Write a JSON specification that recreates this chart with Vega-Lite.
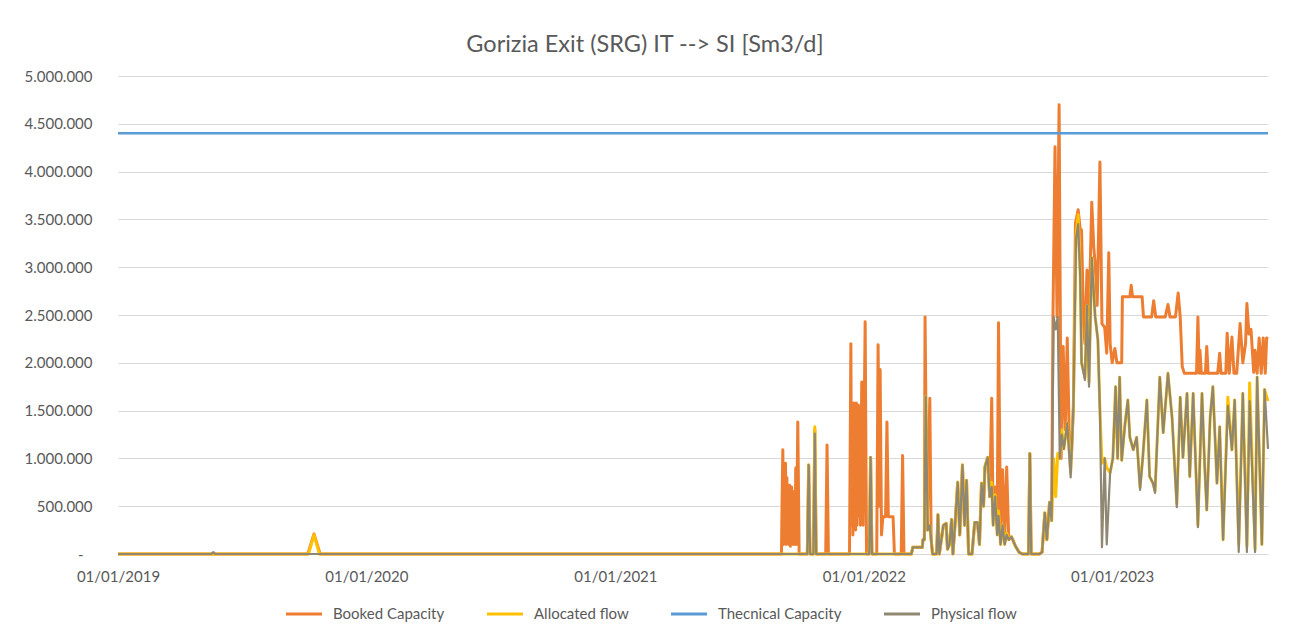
{
  "$schema": "https://vega.github.io/schema/vega-lite/v6.json",
  "width": 1150,
  "height": 478,
  "autosize": {"type": "none"},
  "padding": {"left": 118, "top": 76, "right": 22, "bottom": 85},
  "background": "white",
  "config": {
    "view": {"stroke": null},
    "font": "Lato",
    "locale": {"number": {"decimal": ",", "thousands": ".", "grouping": [3], "currency": ["€", ""]}},
    "axis": {"labelColor": "#595959", "labelFont": "Lato", "labelFontSize": 15, "domain": false, "ticks": false, "title": null}
  },
  "title": {
    "text": "Gorizia Exit (SRG) IT --> SI [Sm3/d]",
    "anchor": "middle",
    "frame": "group",
    "dx": -48,
    "offset": 13,
    "font": "Lato",
    "fontSize": 23.5,
    "fontWeight": "normal",
    "color": "#595959"
  },
  "data": {
    "values": [
      {"date": "2019-01-01", "series": "Thecnical Capacity", "value": 4400000},
      {"date": "2023-08-18", "series": "Thecnical Capacity", "value": 4400000},

      {"date": "2019-01-01", "series": "Booked Capacity", "value": 0},
      {"date": "2019-10-07", "series": "Booked Capacity", "value": 0},
      {"date": "2019-10-16", "series": "Booked Capacity", "value": 210000},
      {"date": "2019-10-25", "series": "Booked Capacity", "value": 0},
      {"date": "2021-09-02", "series": "Booked Capacity", "value": 0},
      {"date": "2021-09-03", "series": "Booked Capacity", "value": 600000},
      {"date": "2021-09-04", "series": "Booked Capacity", "value": 1090000},
      {"date": "2021-09-05", "series": "Booked Capacity", "value": 100000},
      {"date": "2021-09-06", "series": "Booked Capacity", "value": 900000},
      {"date": "2021-09-07", "series": "Booked Capacity", "value": 150000},
      {"date": "2021-09-08", "series": "Booked Capacity", "value": 950000},
      {"date": "2021-09-09", "series": "Booked Capacity", "value": 100000},
      {"date": "2021-09-10", "series": "Booked Capacity", "value": 800000},
      {"date": "2021-09-11", "series": "Booked Capacity", "value": 120000},
      {"date": "2021-09-12", "series": "Booked Capacity", "value": 700000},
      {"date": "2021-09-13", "series": "Booked Capacity", "value": 100000},
      {"date": "2021-09-14", "series": "Booked Capacity", "value": 720000},
      {"date": "2021-09-15", "series": "Booked Capacity", "value": 80000},
      {"date": "2021-09-17", "series": "Booked Capacity", "value": 700000},
      {"date": "2021-09-19", "series": "Booked Capacity", "value": 100000},
      {"date": "2021-09-20", "series": "Booked Capacity", "value": 650000},
      {"date": "2021-09-22", "series": "Booked Capacity", "value": 100000},
      {"date": "2021-09-23", "series": "Booked Capacity", "value": 900000},
      {"date": "2021-09-24", "series": "Booked Capacity", "value": 100000},
      {"date": "2021-09-26", "series": "Booked Capacity", "value": 1380000},
      {"date": "2021-09-28", "series": "Booked Capacity", "value": 0},
      {"date": "2021-10-10", "series": "Booked Capacity", "value": 0},
      {"date": "2021-10-12", "series": "Booked Capacity", "value": 930000},
      {"date": "2021-10-14", "series": "Booked Capacity", "value": 0},
      {"date": "2021-10-19", "series": "Booked Capacity", "value": 0},
      {"date": "2021-10-21", "series": "Booked Capacity", "value": 1300000},
      {"date": "2021-10-23", "series": "Booked Capacity", "value": 0},
      {"date": "2021-11-06", "series": "Booked Capacity", "value": 0},
      {"date": "2021-11-08", "series": "Booked Capacity", "value": 1140000},
      {"date": "2021-11-10", "series": "Booked Capacity", "value": 0},
      {"date": "2021-12-11", "series": "Booked Capacity", "value": 0},
      {"date": "2021-12-13", "series": "Booked Capacity", "value": 2200000},
      {"date": "2021-12-14", "series": "Booked Capacity", "value": 300000},
      {"date": "2021-12-15", "series": "Booked Capacity", "value": 1500000},
      {"date": "2021-12-16", "series": "Booked Capacity", "value": 200000},
      {"date": "2021-12-17", "series": "Booked Capacity", "value": 1580000},
      {"date": "2021-12-18", "series": "Booked Capacity", "value": 300000},
      {"date": "2021-12-19", "series": "Booked Capacity", "value": 1560000},
      {"date": "2021-12-20", "series": "Booked Capacity", "value": 250000},
      {"date": "2021-12-21", "series": "Booked Capacity", "value": 1580000},
      {"date": "2021-12-22", "series": "Booked Capacity", "value": 300000},
      {"date": "2021-12-23", "series": "Booked Capacity", "value": 1560000},
      {"date": "2021-12-24", "series": "Booked Capacity", "value": 400000},
      {"date": "2021-12-25", "series": "Booked Capacity", "value": 1550000},
      {"date": "2021-12-27", "series": "Booked Capacity", "value": 300000},
      {"date": "2021-12-29", "series": "Booked Capacity", "value": 1800000},
      {"date": "2021-12-31", "series": "Booked Capacity", "value": 300000},
      {"date": "2022-01-03", "series": "Booked Capacity", "value": 2430000},
      {"date": "2022-01-05", "series": "Booked Capacity", "value": 0},
      {"date": "2022-01-09", "series": "Booked Capacity", "value": 0},
      {"date": "2022-01-11", "series": "Booked Capacity", "value": 1010000},
      {"date": "2022-01-13", "series": "Booked Capacity", "value": 0},
      {"date": "2022-01-20", "series": "Booked Capacity", "value": 0},
      {"date": "2022-01-22", "series": "Booked Capacity", "value": 2190000},
      {"date": "2022-01-24", "series": "Booked Capacity", "value": 500000},
      {"date": "2022-01-25", "series": "Booked Capacity", "value": 1930000},
      {"date": "2022-01-27", "series": "Booked Capacity", "value": 200000},
      {"date": "2022-01-29", "series": "Booked Capacity", "value": 390000},
      {"date": "2022-02-02", "series": "Booked Capacity", "value": 390000},
      {"date": "2022-02-04", "series": "Booked Capacity", "value": 1380000},
      {"date": "2022-02-06", "series": "Booked Capacity", "value": 390000},
      {"date": "2022-02-13", "series": "Booked Capacity", "value": 390000},
      {"date": "2022-02-15", "series": "Booked Capacity", "value": 0},
      {"date": "2022-02-25", "series": "Booked Capacity", "value": 0},
      {"date": "2022-02-27", "series": "Booked Capacity", "value": 1030000},
      {"date": "2022-03-01", "series": "Booked Capacity", "value": 0},
      {"date": "2022-03-12", "series": "Booked Capacity", "value": 0},
      {"date": "2022-03-14", "series": "Booked Capacity", "value": 70000},
      {"date": "2022-03-28", "series": "Booked Capacity", "value": 70000},
      {"date": "2022-03-29", "series": "Booked Capacity", "value": 150000},
      {"date": "2022-03-31", "series": "Booked Capacity", "value": 150000},
      {"date": "2022-04-01", "series": "Booked Capacity", "value": 2480000},
      {"date": "2022-04-04", "series": "Booked Capacity", "value": 250000},
      {"date": "2022-04-08", "series": "Booked Capacity", "value": 1630000},
      {"date": "2022-04-10", "series": "Booked Capacity", "value": 150000},
      {"date": "2022-04-12", "series": "Booked Capacity", "value": 0},
      {"date": "2022-04-18", "series": "Booked Capacity", "value": 0},
      {"date": "2022-04-20", "series": "Booked Capacity", "value": 410000},
      {"date": "2022-04-22", "series": "Booked Capacity", "value": 0},
      {"date": "2022-04-28", "series": "Booked Capacity", "value": 300000},
      {"date": "2022-05-02", "series": "Booked Capacity", "value": 320000},
      {"date": "2022-05-04", "series": "Booked Capacity", "value": 50000},
      {"date": "2022-05-07", "series": "Booked Capacity", "value": 100000},
      {"date": "2022-05-10", "series": "Booked Capacity", "value": 360000},
      {"date": "2022-05-12", "series": "Booked Capacity", "value": 0},
      {"date": "2022-05-15", "series": "Booked Capacity", "value": 300000},
      {"date": "2022-05-19", "series": "Booked Capacity", "value": 750000},
      {"date": "2022-05-22", "series": "Booked Capacity", "value": 200000},
      {"date": "2022-05-26", "series": "Booked Capacity", "value": 930000},
      {"date": "2022-05-29", "series": "Booked Capacity", "value": 300000},
      {"date": "2022-06-01", "series": "Booked Capacity", "value": 770000},
      {"date": "2022-06-04", "series": "Booked Capacity", "value": 0},
      {"date": "2022-06-09", "series": "Booked Capacity", "value": 0},
      {"date": "2022-06-13", "series": "Booked Capacity", "value": 330000},
      {"date": "2022-06-17", "series": "Booked Capacity", "value": 330000},
      {"date": "2022-06-20", "series": "Booked Capacity", "value": 100000},
      {"date": "2022-06-23", "series": "Booked Capacity", "value": 740000},
      {"date": "2022-06-26", "series": "Booked Capacity", "value": 500000},
      {"date": "2022-06-28", "series": "Booked Capacity", "value": 910000},
      {"date": "2022-07-02", "series": "Booked Capacity", "value": 1010000},
      {"date": "2022-07-05", "series": "Booked Capacity", "value": 600000},
      {"date": "2022-07-08", "series": "Booked Capacity", "value": 1630000},
      {"date": "2022-07-10", "series": "Booked Capacity", "value": 400000},
      {"date": "2022-07-13", "series": "Booked Capacity", "value": 700000},
      {"date": "2022-07-16", "series": "Booked Capacity", "value": 300000},
      {"date": "2022-07-18", "series": "Booked Capacity", "value": 2420000},
      {"date": "2022-07-21", "series": "Booked Capacity", "value": 200000},
      {"date": "2022-07-24", "series": "Booked Capacity", "value": 880000},
      {"date": "2022-07-27", "series": "Booked Capacity", "value": 150000},
      {"date": "2022-07-30", "series": "Booked Capacity", "value": 910000},
      {"date": "2022-08-02", "series": "Booked Capacity", "value": 150000},
      {"date": "2022-08-06", "series": "Booked Capacity", "value": 180000},
      {"date": "2022-08-12", "series": "Booked Capacity", "value": 80000},
      {"date": "2022-08-17", "series": "Booked Capacity", "value": 20000},
      {"date": "2022-08-22", "series": "Booked Capacity", "value": 0},
      {"date": "2022-08-31", "series": "Booked Capacity", "value": 0},
      {"date": "2022-09-02", "series": "Booked Capacity", "value": 1050000},
      {"date": "2022-09-04", "series": "Booked Capacity", "value": 0},
      {"date": "2022-09-16", "series": "Booked Capacity", "value": 0},
      {"date": "2022-09-20", "series": "Booked Capacity", "value": 20000},
      {"date": "2022-09-24", "series": "Booked Capacity", "value": 430000},
      {"date": "2022-09-27", "series": "Booked Capacity", "value": 150000},
      {"date": "2022-10-01", "series": "Booked Capacity", "value": 540000},
      {"date": "2022-10-04", "series": "Booked Capacity", "value": 350000},
      {"date": "2022-10-06", "series": "Booked Capacity", "value": 2480000},
      {"date": "2022-10-09", "series": "Booked Capacity", "value": 4260000},
      {"date": "2022-10-12", "series": "Booked Capacity", "value": 2480000},
      {"date": "2022-10-15", "series": "Booked Capacity", "value": 4700000},
      {"date": "2022-10-18", "series": "Booked Capacity", "value": 1000000},
      {"date": "2022-10-21", "series": "Booked Capacity", "value": 2170000},
      {"date": "2022-10-24", "series": "Booked Capacity", "value": 1300000},
      {"date": "2022-10-27", "series": "Booked Capacity", "value": 2260000},
      {"date": "2022-10-30", "series": "Booked Capacity", "value": 1200000},
      {"date": "2022-11-02", "series": "Booked Capacity", "value": 1000000},
      {"date": "2022-11-05", "series": "Booked Capacity", "value": 1540000},
      {"date": "2022-11-08", "series": "Booked Capacity", "value": 3460000},
      {"date": "2022-11-12", "series": "Booked Capacity", "value": 3600000},
      {"date": "2022-11-15", "series": "Booked Capacity", "value": 3400000},
      {"date": "2022-11-17", "series": "Booked Capacity", "value": 3390000},
      {"date": "2022-11-20", "series": "Booked Capacity", "value": 2400000},
      {"date": "2022-11-22", "series": "Booked Capacity", "value": 2200000},
      {"date": "2022-11-25", "series": "Booked Capacity", "value": 2970000},
      {"date": "2022-11-28", "series": "Booked Capacity", "value": 2500000},
      {"date": "2022-12-02", "series": "Booked Capacity", "value": 3680000},
      {"date": "2022-12-05", "series": "Booked Capacity", "value": 3200000},
      {"date": "2022-12-07", "series": "Booked Capacity", "value": 3040000},
      {"date": "2022-12-10", "series": "Booked Capacity", "value": 2600000},
      {"date": "2022-12-14", "series": "Booked Capacity", "value": 4100000},
      {"date": "2022-12-17", "series": "Booked Capacity", "value": 2410000},
      {"date": "2022-12-21", "series": "Booked Capacity", "value": 2370000},
      {"date": "2022-12-24", "series": "Booked Capacity", "value": 2100000},
      {"date": "2022-12-27", "series": "Booked Capacity", "value": 3150000},
      {"date": "2022-12-29", "series": "Booked Capacity", "value": 2200000},
      {"date": "2023-01-01", "series": "Booked Capacity", "value": 2000000},
      {"date": "2023-01-05", "series": "Booked Capacity", "value": 2150000},
      {"date": "2023-01-08", "series": "Booked Capacity", "value": 2000000},
      {"date": "2023-01-15", "series": "Booked Capacity", "value": 2000000},
      {"date": "2023-01-16", "series": "Booked Capacity", "value": 2690000},
      {"date": "2023-01-27", "series": "Booked Capacity", "value": 2690000},
      {"date": "2023-01-29", "series": "Booked Capacity", "value": 2810000},
      {"date": "2023-01-31", "series": "Booked Capacity", "value": 2690000},
      {"date": "2023-02-14", "series": "Booked Capacity", "value": 2690000},
      {"date": "2023-02-16", "series": "Booked Capacity", "value": 2480000},
      {"date": "2023-02-28", "series": "Booked Capacity", "value": 2480000},
      {"date": "2023-03-03", "series": "Booked Capacity", "value": 2650000},
      {"date": "2023-03-06", "series": "Booked Capacity", "value": 2480000},
      {"date": "2023-03-20", "series": "Booked Capacity", "value": 2480000},
      {"date": "2023-03-24", "series": "Booked Capacity", "value": 2610000},
      {"date": "2023-03-27", "series": "Booked Capacity", "value": 2480000},
      {"date": "2023-04-04", "series": "Booked Capacity", "value": 2480000},
      {"date": "2023-04-08", "series": "Booked Capacity", "value": 2730000},
      {"date": "2023-04-11", "series": "Booked Capacity", "value": 2480000},
      {"date": "2023-04-14", "series": "Booked Capacity", "value": 1960000},
      {"date": "2023-04-17", "series": "Booked Capacity", "value": 1890000},
      {"date": "2023-05-05", "series": "Booked Capacity", "value": 1890000},
      {"date": "2023-05-07", "series": "Booked Capacity", "value": 2480000},
      {"date": "2023-05-09", "series": "Booked Capacity", "value": 1890000},
      {"date": "2023-05-10", "series": "Booked Capacity", "value": 2130000},
      {"date": "2023-05-12", "series": "Booked Capacity", "value": 1890000},
      {"date": "2023-05-18", "series": "Booked Capacity", "value": 1890000},
      {"date": "2023-05-20", "series": "Booked Capacity", "value": 2170000},
      {"date": "2023-05-22", "series": "Booked Capacity", "value": 1890000},
      {"date": "2023-06-05", "series": "Booked Capacity", "value": 1890000},
      {"date": "2023-06-08", "series": "Booked Capacity", "value": 2100000},
      {"date": "2023-06-10", "series": "Booked Capacity", "value": 1890000},
      {"date": "2023-06-17", "series": "Booked Capacity", "value": 1890000},
      {"date": "2023-06-19", "series": "Booked Capacity", "value": 2310000},
      {"date": "2023-06-22", "series": "Booked Capacity", "value": 1890000},
      {"date": "2023-06-26", "series": "Booked Capacity", "value": 2270000},
      {"date": "2023-06-29", "series": "Booked Capacity", "value": 1890000},
      {"date": "2023-07-03", "series": "Booked Capacity", "value": 1890000},
      {"date": "2023-07-08", "series": "Booked Capacity", "value": 2410000},
      {"date": "2023-07-12", "series": "Booked Capacity", "value": 2000000},
      {"date": "2023-07-16", "series": "Booked Capacity", "value": 2200000},
      {"date": "2023-07-18", "series": "Booked Capacity", "value": 2620000},
      {"date": "2023-07-21", "series": "Booked Capacity", "value": 2300000},
      {"date": "2023-07-24", "series": "Booked Capacity", "value": 2350000},
      {"date": "2023-07-28", "series": "Booked Capacity", "value": 1900000},
      {"date": "2023-07-30", "series": "Booked Capacity", "value": 2130000},
      {"date": "2023-08-02", "series": "Booked Capacity", "value": 1890000},
      {"date": "2023-08-05", "series": "Booked Capacity", "value": 2260000},
      {"date": "2023-08-08", "series": "Booked Capacity", "value": 1890000},
      {"date": "2023-08-11", "series": "Booked Capacity", "value": 2260000},
      {"date": "2023-08-14", "series": "Booked Capacity", "value": 1890000},
      {"date": "2023-08-16", "series": "Booked Capacity", "value": 2260000},
      {"date": "2023-08-18", "series": "Booked Capacity", "value": 2250000},

      {"date": "2019-01-01", "series": "Allocated flow", "value": 0},
      {"date": "2019-10-08", "series": "Allocated flow", "value": 0},
      {"date": "2019-10-16", "series": "Allocated flow", "value": 200000},
      {"date": "2019-10-24", "series": "Allocated flow", "value": 0},
      {"date": "2021-10-10", "series": "Allocated flow", "value": 0},
      {"date": "2021-10-12", "series": "Allocated flow", "value": 930000},
      {"date": "2021-10-14", "series": "Allocated flow", "value": 0},
      {"date": "2021-10-19", "series": "Allocated flow", "value": 0},
      {"date": "2021-10-21", "series": "Allocated flow", "value": 1330000},
      {"date": "2021-10-23", "series": "Allocated flow", "value": 0},
      {"date": "2022-01-09", "series": "Allocated flow", "value": 0},
      {"date": "2022-01-11", "series": "Allocated flow", "value": 1010000},
      {"date": "2022-01-13", "series": "Allocated flow", "value": 0},
      {"date": "2022-03-12", "series": "Allocated flow", "value": 0},
      {"date": "2022-03-14", "series": "Allocated flow", "value": 70000},
      {"date": "2022-03-28", "series": "Allocated flow", "value": 70000},
      {"date": "2022-03-29", "series": "Allocated flow", "value": 150000},
      {"date": "2022-03-31", "series": "Allocated flow", "value": 150000},
      {"date": "2022-04-02", "series": "Allocated flow", "value": 1650000},
      {"date": "2022-04-05", "series": "Allocated flow", "value": 250000},
      {"date": "2022-04-08", "series": "Allocated flow", "value": 300000},
      {"date": "2022-04-10", "series": "Allocated flow", "value": 150000},
      {"date": "2022-04-12", "series": "Allocated flow", "value": 0},
      {"date": "2022-04-18", "series": "Allocated flow", "value": 0},
      {"date": "2022-04-20", "series": "Allocated flow", "value": 410000},
      {"date": "2022-04-22", "series": "Allocated flow", "value": 0},
      {"date": "2022-04-28", "series": "Allocated flow", "value": 300000},
      {"date": "2022-05-02", "series": "Allocated flow", "value": 320000},
      {"date": "2022-05-04", "series": "Allocated flow", "value": 50000},
      {"date": "2022-05-07", "series": "Allocated flow", "value": 100000},
      {"date": "2022-05-10", "series": "Allocated flow", "value": 360000},
      {"date": "2022-05-12", "series": "Allocated flow", "value": 0},
      {"date": "2022-05-15", "series": "Allocated flow", "value": 300000},
      {"date": "2022-05-19", "series": "Allocated flow", "value": 750000},
      {"date": "2022-05-22", "series": "Allocated flow", "value": 200000},
      {"date": "2022-05-26", "series": "Allocated flow", "value": 930000},
      {"date": "2022-05-29", "series": "Allocated flow", "value": 300000},
      {"date": "2022-06-01", "series": "Allocated flow", "value": 770000},
      {"date": "2022-06-04", "series": "Allocated flow", "value": 0},
      {"date": "2022-06-09", "series": "Allocated flow", "value": 0},
      {"date": "2022-06-13", "series": "Allocated flow", "value": 330000},
      {"date": "2022-06-17", "series": "Allocated flow", "value": 330000},
      {"date": "2022-06-20", "series": "Allocated flow", "value": 100000},
      {"date": "2022-06-23", "series": "Allocated flow", "value": 740000},
      {"date": "2022-06-26", "series": "Allocated flow", "value": 500000},
      {"date": "2022-06-28", "series": "Allocated flow", "value": 910000},
      {"date": "2022-07-02", "series": "Allocated flow", "value": 1010000},
      {"date": "2022-07-05", "series": "Allocated flow", "value": 600000},
      {"date": "2022-07-08", "series": "Allocated flow", "value": 750000},
      {"date": "2022-07-10", "series": "Allocated flow", "value": 300000},
      {"date": "2022-07-13", "series": "Allocated flow", "value": 620000},
      {"date": "2022-07-16", "series": "Allocated flow", "value": 200000},
      {"date": "2022-07-18", "series": "Allocated flow", "value": 450000},
      {"date": "2022-07-21", "series": "Allocated flow", "value": 100000},
      {"date": "2022-07-24", "series": "Allocated flow", "value": 300000},
      {"date": "2022-07-27", "series": "Allocated flow", "value": 100000},
      {"date": "2022-07-30", "series": "Allocated flow", "value": 220000},
      {"date": "2022-08-02", "series": "Allocated flow", "value": 160000},
      {"date": "2022-08-06", "series": "Allocated flow", "value": 180000},
      {"date": "2022-08-12", "series": "Allocated flow", "value": 80000},
      {"date": "2022-08-17", "series": "Allocated flow", "value": 20000},
      {"date": "2022-08-22", "series": "Allocated flow", "value": 0},
      {"date": "2022-08-31", "series": "Allocated flow", "value": 0},
      {"date": "2022-09-02", "series": "Allocated flow", "value": 1050000},
      {"date": "2022-09-04", "series": "Allocated flow", "value": 0},
      {"date": "2022-09-16", "series": "Allocated flow", "value": 0},
      {"date": "2022-09-20", "series": "Allocated flow", "value": 20000},
      {"date": "2022-09-24", "series": "Allocated flow", "value": 430000},
      {"date": "2022-09-27", "series": "Allocated flow", "value": 150000},
      {"date": "2022-10-01", "series": "Allocated flow", "value": 540000},
      {"date": "2022-10-04", "series": "Allocated flow", "value": 350000},
      {"date": "2022-10-07", "series": "Allocated flow", "value": 1000000},
      {"date": "2022-10-10", "series": "Allocated flow", "value": 600000},
      {"date": "2022-10-13", "series": "Allocated flow", "value": 1050000},
      {"date": "2022-10-16", "series": "Allocated flow", "value": 1000000},
      {"date": "2022-10-19", "series": "Allocated flow", "value": 1300000},
      {"date": "2022-10-22", "series": "Allocated flow", "value": 1100000},
      {"date": "2022-10-27", "series": "Allocated flow", "value": 1370000},
      {"date": "2022-11-01", "series": "Allocated flow", "value": 850000},
      {"date": "2022-11-05", "series": "Allocated flow", "value": 1540000},
      {"date": "2022-11-09", "series": "Allocated flow", "value": 3350000},
      {"date": "2022-11-12", "series": "Allocated flow", "value": 3550000},
      {"date": "2022-11-15", "series": "Allocated flow", "value": 2950000},
      {"date": "2022-11-17", "series": "Allocated flow", "value": 2000000},
      {"date": "2022-11-22", "series": "Allocated flow", "value": 1850000},
      {"date": "2022-11-25", "series": "Allocated flow", "value": 2600000},
      {"date": "2022-11-28", "series": "Allocated flow", "value": 1800000},
      {"date": "2022-12-02", "series": "Allocated flow", "value": 3100000},
      {"date": "2022-12-07", "series": "Allocated flow", "value": 2480000},
      {"date": "2022-12-11", "series": "Allocated flow", "value": 2240000},
      {"date": "2022-12-14", "series": "Allocated flow", "value": 1500000},
      {"date": "2022-12-17", "series": "Allocated flow", "value": 950000},
      {"date": "2022-12-21", "series": "Allocated flow", "value": 1000000},
      {"date": "2022-12-24", "series": "Allocated flow", "value": 900000},
      {"date": "2022-12-29", "series": "Allocated flow", "value": 850000},
      {"date": "2023-01-02", "series": "Allocated flow", "value": 1000000},
      {"date": "2023-01-06", "series": "Allocated flow", "value": 1750000},
      {"date": "2023-01-09", "series": "Allocated flow", "value": 1000000},
      {"date": "2023-01-12", "series": "Allocated flow", "value": 1850000},
      {"date": "2023-01-15", "series": "Allocated flow", "value": 980000},
      {"date": "2023-01-20", "series": "Allocated flow", "value": 1370000},
      {"date": "2023-01-24", "series": "Allocated flow", "value": 1610000},
      {"date": "2023-01-27", "series": "Allocated flow", "value": 1220000},
      {"date": "2023-02-01", "series": "Allocated flow", "value": 1090000},
      {"date": "2023-02-06", "series": "Allocated flow", "value": 1220000},
      {"date": "2023-02-11", "series": "Allocated flow", "value": 700000},
      {"date": "2023-02-15", "series": "Allocated flow", "value": 1010000},
      {"date": "2023-02-21", "series": "Allocated flow", "value": 1610000},
      {"date": "2023-02-25", "series": "Allocated flow", "value": 810000},
      {"date": "2023-03-02", "series": "Allocated flow", "value": 740000},
      {"date": "2023-03-05", "series": "Allocated flow", "value": 660000},
      {"date": "2023-03-12", "series": "Allocated flow", "value": 1850000},
      {"date": "2023-03-17", "series": "Allocated flow", "value": 1270000},
      {"date": "2023-03-24", "series": "Allocated flow", "value": 1890000},
      {"date": "2023-03-30", "series": "Allocated flow", "value": 1430000},
      {"date": "2023-04-06", "series": "Allocated flow", "value": 520000},
      {"date": "2023-04-11", "series": "Allocated flow", "value": 1640000},
      {"date": "2023-04-15", "series": "Allocated flow", "value": 1010000},
      {"date": "2023-04-21", "series": "Allocated flow", "value": 1680000},
      {"date": "2023-04-25", "series": "Allocated flow", "value": 810000},
      {"date": "2023-04-30", "series": "Allocated flow", "value": 1680000},
      {"date": "2023-05-07", "series": "Allocated flow", "value": 300000},
      {"date": "2023-05-13", "series": "Allocated flow", "value": 1680000},
      {"date": "2023-05-17", "series": "Allocated flow", "value": 910000},
      {"date": "2023-05-20", "series": "Allocated flow", "value": 460000},
      {"date": "2023-05-25", "series": "Allocated flow", "value": 1430000},
      {"date": "2023-05-29", "series": "Allocated flow", "value": 1750000},
      {"date": "2023-06-04", "series": "Allocated flow", "value": 740000},
      {"date": "2023-06-08", "series": "Allocated flow", "value": 1330000},
      {"date": "2023-06-13", "series": "Allocated flow", "value": 150000},
      {"date": "2023-06-20", "series": "Allocated flow", "value": 1640000},
      {"date": "2023-06-26", "series": "Allocated flow", "value": 1090000},
      {"date": "2023-06-30", "series": "Allocated flow", "value": 1610000},
      {"date": "2023-07-06", "series": "Allocated flow", "value": 100000},
      {"date": "2023-07-12", "series": "Allocated flow", "value": 1680000},
      {"date": "2023-07-18", "series": "Allocated flow", "value": 80000},
      {"date": "2023-07-22", "series": "Allocated flow", "value": 1790000},
      {"date": "2023-07-30", "series": "Allocated flow", "value": 50000},
      {"date": "2023-08-02", "series": "Allocated flow", "value": 1850000},
      {"date": "2023-08-09", "series": "Allocated flow", "value": 100000},
      {"date": "2023-08-13", "series": "Allocated flow", "value": 1720000},
      {"date": "2023-08-18", "series": "Allocated flow", "value": 1600000},

      {"date": "2019-01-01", "series": "Physical flow", "value": 0},
      {"date": "2019-05-18", "series": "Physical flow", "value": 0},
      {"date": "2019-05-21", "series": "Physical flow", "value": 20000},
      {"date": "2019-05-24", "series": "Physical flow", "value": 0},
      {"date": "2021-10-10", "series": "Physical flow", "value": 0},
      {"date": "2021-10-12", "series": "Physical flow", "value": 930000},
      {"date": "2021-10-14", "series": "Physical flow", "value": 0},
      {"date": "2021-10-19", "series": "Physical flow", "value": 0},
      {"date": "2021-10-21", "series": "Physical flow", "value": 1260000},
      {"date": "2021-10-23", "series": "Physical flow", "value": 0},
      {"date": "2022-01-09", "series": "Physical flow", "value": 0},
      {"date": "2022-01-11", "series": "Physical flow", "value": 1010000},
      {"date": "2022-01-13", "series": "Physical flow", "value": 0},
      {"date": "2022-03-12", "series": "Physical flow", "value": 0},
      {"date": "2022-03-14", "series": "Physical flow", "value": 70000},
      {"date": "2022-03-28", "series": "Physical flow", "value": 70000},
      {"date": "2022-03-29", "series": "Physical flow", "value": 150000},
      {"date": "2022-03-31", "series": "Physical flow", "value": 150000},
      {"date": "2022-04-02", "series": "Physical flow", "value": 1650000},
      {"date": "2022-04-05", "series": "Physical flow", "value": 250000},
      {"date": "2022-04-08", "series": "Physical flow", "value": 300000},
      {"date": "2022-04-10", "series": "Physical flow", "value": 150000},
      {"date": "2022-04-12", "series": "Physical flow", "value": 0},
      {"date": "2022-04-18", "series": "Physical flow", "value": 0},
      {"date": "2022-04-20", "series": "Physical flow", "value": 410000},
      {"date": "2022-04-22", "series": "Physical flow", "value": 0},
      {"date": "2022-04-28", "series": "Physical flow", "value": 300000},
      {"date": "2022-05-02", "series": "Physical flow", "value": 320000},
      {"date": "2022-05-04", "series": "Physical flow", "value": 50000},
      {"date": "2022-05-07", "series": "Physical flow", "value": 100000},
      {"date": "2022-05-10", "series": "Physical flow", "value": 360000},
      {"date": "2022-05-12", "series": "Physical flow", "value": 0},
      {"date": "2022-05-15", "series": "Physical flow", "value": 300000},
      {"date": "2022-05-19", "series": "Physical flow", "value": 750000},
      {"date": "2022-05-22", "series": "Physical flow", "value": 200000},
      {"date": "2022-05-26", "series": "Physical flow", "value": 930000},
      {"date": "2022-05-29", "series": "Physical flow", "value": 300000},
      {"date": "2022-06-01", "series": "Physical flow", "value": 770000},
      {"date": "2022-06-04", "series": "Physical flow", "value": 0},
      {"date": "2022-06-09", "series": "Physical flow", "value": 0},
      {"date": "2022-06-13", "series": "Physical flow", "value": 330000},
      {"date": "2022-06-17", "series": "Physical flow", "value": 330000},
      {"date": "2022-06-20", "series": "Physical flow", "value": 100000},
      {"date": "2022-06-23", "series": "Physical flow", "value": 740000},
      {"date": "2022-06-26", "series": "Physical flow", "value": 500000},
      {"date": "2022-06-28", "series": "Physical flow", "value": 910000},
      {"date": "2022-07-02", "series": "Physical flow", "value": 1010000},
      {"date": "2022-07-05", "series": "Physical flow", "value": 600000},
      {"date": "2022-07-08", "series": "Physical flow", "value": 700000},
      {"date": "2022-07-10", "series": "Physical flow", "value": 300000},
      {"date": "2022-07-13", "series": "Physical flow", "value": 600000},
      {"date": "2022-07-16", "series": "Physical flow", "value": 200000},
      {"date": "2022-07-18", "series": "Physical flow", "value": 400000},
      {"date": "2022-07-21", "series": "Physical flow", "value": 100000},
      {"date": "2022-07-24", "series": "Physical flow", "value": 300000},
      {"date": "2022-07-27", "series": "Physical flow", "value": 100000},
      {"date": "2022-07-30", "series": "Physical flow", "value": 200000},
      {"date": "2022-08-02", "series": "Physical flow", "value": 150000},
      {"date": "2022-08-06", "series": "Physical flow", "value": 180000},
      {"date": "2022-08-12", "series": "Physical flow", "value": 80000},
      {"date": "2022-08-17", "series": "Physical flow", "value": 20000},
      {"date": "2022-08-22", "series": "Physical flow", "value": 0},
      {"date": "2022-08-31", "series": "Physical flow", "value": 0},
      {"date": "2022-09-02", "series": "Physical flow", "value": 1050000},
      {"date": "2022-09-04", "series": "Physical flow", "value": 0},
      {"date": "2022-09-16", "series": "Physical flow", "value": 0},
      {"date": "2022-09-20", "series": "Physical flow", "value": 20000},
      {"date": "2022-09-24", "series": "Physical flow", "value": 430000},
      {"date": "2022-09-27", "series": "Physical flow", "value": 150000},
      {"date": "2022-10-01", "series": "Physical flow", "value": 540000},
      {"date": "2022-10-04", "series": "Physical flow", "value": 350000},
      {"date": "2022-10-07", "series": "Physical flow", "value": 2480000},
      {"date": "2022-10-10", "series": "Physical flow", "value": 2350000},
      {"date": "2022-10-13", "series": "Physical flow", "value": 2480000},
      {"date": "2022-10-16", "series": "Physical flow", "value": 1000000},
      {"date": "2022-10-19", "series": "Physical flow", "value": 1250000},
      {"date": "2022-10-22", "series": "Physical flow", "value": 1100000},
      {"date": "2022-10-27", "series": "Physical flow", "value": 1370000},
      {"date": "2022-11-01", "series": "Physical flow", "value": 800000},
      {"date": "2022-11-05", "series": "Physical flow", "value": 1540000},
      {"date": "2022-11-09", "series": "Physical flow", "value": 3300000},
      {"date": "2022-11-12", "series": "Physical flow", "value": 3450000},
      {"date": "2022-11-15", "series": "Physical flow", "value": 2900000},
      {"date": "2022-11-17", "series": "Physical flow", "value": 2000000},
      {"date": "2022-11-22", "series": "Physical flow", "value": 1820000},
      {"date": "2022-11-25", "series": "Physical flow", "value": 2600000},
      {"date": "2022-11-28", "series": "Physical flow", "value": 1750000},
      {"date": "2022-12-02", "series": "Physical flow", "value": 3100000},
      {"date": "2022-12-07", "series": "Physical flow", "value": 2480000},
      {"date": "2022-12-11", "series": "Physical flow", "value": 2240000},
      {"date": "2022-12-14", "series": "Physical flow", "value": 1500000},
      {"date": "2022-12-17", "series": "Physical flow", "value": 70000},
      {"date": "2022-12-21", "series": "Physical flow", "value": 1000000},
      {"date": "2022-12-24", "series": "Physical flow", "value": 100000},
      {"date": "2022-12-29", "series": "Physical flow", "value": 850000},
      {"date": "2023-01-02", "series": "Physical flow", "value": 1000000},
      {"date": "2023-01-06", "series": "Physical flow", "value": 1750000},
      {"date": "2023-01-09", "series": "Physical flow", "value": 1000000},
      {"date": "2023-01-12", "series": "Physical flow", "value": 1850000},
      {"date": "2023-01-15", "series": "Physical flow", "value": 980000},
      {"date": "2023-01-20", "series": "Physical flow", "value": 1370000},
      {"date": "2023-01-24", "series": "Physical flow", "value": 1610000},
      {"date": "2023-01-27", "series": "Physical flow", "value": 1220000},
      {"date": "2023-02-01", "series": "Physical flow", "value": 1090000},
      {"date": "2023-02-06", "series": "Physical flow", "value": 1220000},
      {"date": "2023-02-11", "series": "Physical flow", "value": 670000},
      {"date": "2023-02-15", "series": "Physical flow", "value": 1010000},
      {"date": "2023-02-21", "series": "Physical flow", "value": 1610000},
      {"date": "2023-02-25", "series": "Physical flow", "value": 810000},
      {"date": "2023-03-02", "series": "Physical flow", "value": 740000},
      {"date": "2023-03-05", "series": "Physical flow", "value": 640000},
      {"date": "2023-03-12", "series": "Physical flow", "value": 1850000},
      {"date": "2023-03-17", "series": "Physical flow", "value": 1270000},
      {"date": "2023-03-24", "series": "Physical flow", "value": 1890000},
      {"date": "2023-03-30", "series": "Physical flow", "value": 1430000},
      {"date": "2023-04-06", "series": "Physical flow", "value": 490000},
      {"date": "2023-04-11", "series": "Physical flow", "value": 1640000},
      {"date": "2023-04-15", "series": "Physical flow", "value": 1010000},
      {"date": "2023-04-21", "series": "Physical flow", "value": 1680000},
      {"date": "2023-04-25", "series": "Physical flow", "value": 810000},
      {"date": "2023-04-30", "series": "Physical flow", "value": 1680000},
      {"date": "2023-05-07", "series": "Physical flow", "value": 280000},
      {"date": "2023-05-13", "series": "Physical flow", "value": 1680000},
      {"date": "2023-05-17", "series": "Physical flow", "value": 910000},
      {"date": "2023-05-20", "series": "Physical flow", "value": 460000},
      {"date": "2023-05-25", "series": "Physical flow", "value": 1430000},
      {"date": "2023-05-29", "series": "Physical flow", "value": 1750000},
      {"date": "2023-06-04", "series": "Physical flow", "value": 740000},
      {"date": "2023-06-08", "series": "Physical flow", "value": 1330000},
      {"date": "2023-06-13", "series": "Physical flow", "value": 150000},
      {"date": "2023-06-20", "series": "Physical flow", "value": 1550000},
      {"date": "2023-06-26", "series": "Physical flow", "value": 1090000},
      {"date": "2023-06-30", "series": "Physical flow", "value": 1610000},
      {"date": "2023-07-06", "series": "Physical flow", "value": 20000},
      {"date": "2023-07-12", "series": "Physical flow", "value": 1680000},
      {"date": "2023-07-18", "series": "Physical flow", "value": 20000},
      {"date": "2023-07-22", "series": "Physical flow", "value": 1600000},
      {"date": "2023-07-30", "series": "Physical flow", "value": 20000},
      {"date": "2023-08-02", "series": "Physical flow", "value": 1850000},
      {"date": "2023-08-09", "series": "Physical flow", "value": 100000},
      {"date": "2023-08-13", "series": "Physical flow", "value": 1720000},
      {"date": "2023-08-18", "series": "Physical flow", "value": 1100000}
    ]
  },
  "encoding": {
    "x": {
      "field": "date",
      "type": "temporal",
      "scale": {
        "type": "utc",
        "domain": [
          {"year": 2019, "month": 1, "date": 1, "utc": true},
          {"year": 2023, "month": 8, "date": 18, "utc": true}
        ]
      },
      "axis": {
        "format": "%d/%m/%Y",
        "values": [
          {"year": 2019, "month": 1, "date": 1, "utc": true},
          {"year": 2020, "month": 1, "date": 1, "utc": true},
          {"year": 2021, "month": 1, "date": 1, "utc": true},
          {"year": 2022, "month": 1, "date": 1, "utc": true},
          {"year": 2023, "month": 1, "date": 1, "utc": true}
        ],
        "grid": false,
        "labelPadding": 15,
        "labelFlush": false,
        "labelOverlap": false
      }
    },
    "y": {
      "field": "value",
      "type": "quantitative",
      "scale": {"domain": [0, 5000000], "nice": false},
      "axis": {
        "values": [0, 500000, 1000000, 1500000, 2000000, 2500000, 3000000, 3500000, 4000000, 4500000, 5000000],
        "format": ",.0f",
        "labelExpr": "datum.value === 0 ? '-' : datum.label",
        "grid": true,
        "gridColor": "#D9D9D9",
        "gridWidth": 1,
        "labelPadding": {"condition": {"test": "datum.value === 0", "value": 35}, "value": 26}
      }
    },
    "color": {
      "field": "series",
      "type": "nominal",
      "scale": {
        "domain": ["Booked Capacity", "Allocated flow", "Thecnical Capacity", "Physical flow"],
        "range": ["#ED7D31", "#FFC000", "#5B9BD5", "#8F8771"]
      },
      "legend": {
        "title": null,
        "orient": "none",
        "direction": "horizontal",
        "legendX": 166,
        "legendY": 518,
        "symbolType": "stroke",
        "symbolSize": 1300,
        "symbolStrokeWidth": 3,
        "labelFont": "Lato",
        "labelFontSize": 15,
        "labelColor": "#595959",
        "labelOffset": 9,
        "columnPadding": 35
      }
    }
  },
  "layer": [
    {
      "transform": [{"filter": "datum.series === 'Booked Capacity'"}],
      "mark": {"type": "line", "strokeWidth": 3, "strokeJoin": "round"}
    },
    {
      "transform": [{"filter": "datum.series === 'Allocated flow'"}],
      "mark": {"type": "line", "strokeWidth": 3, "strokeJoin": "round"}
    },
    {
      "transform": [{"filter": "datum.series === 'Thecnical Capacity'"}],
      "mark": {"type": "line", "strokeWidth": 2.5, "strokeJoin": "round"}
    },
    {
      "transform": [{"filter": "datum.series === 'Physical flow'"}],
      "mark": {"type": "line", "strokeWidth": 2.2, "strokeJoin": "round"}
    }
  ]
}
